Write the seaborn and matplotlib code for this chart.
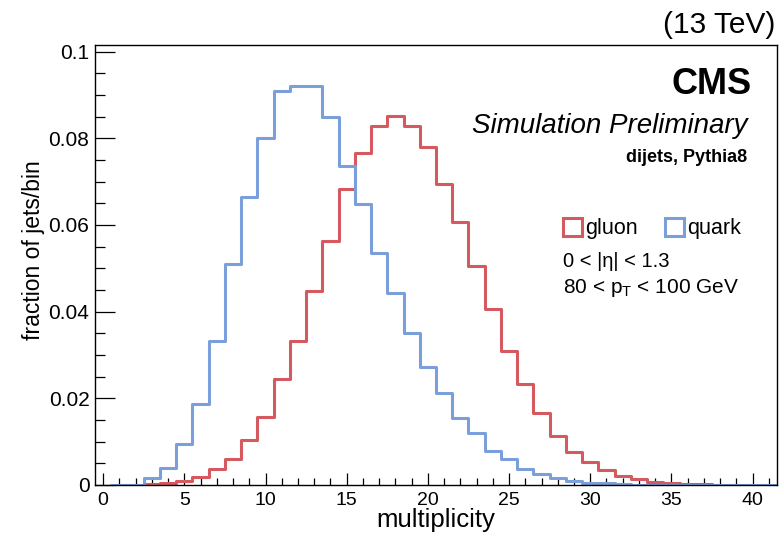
import numpy as np
import pandas as pd
import matplotlib
matplotlib.use('Agg')
import matplotlib.pyplot as plt
import seaborn as sns
from matplotlib.patches import Patch
from matplotlib.ticker import MultipleLocator, FuncFormatter

# multiplicity bins (integer centres, width 1)
quark_bins = list(range(1, 42))
quark_frac = [0.0, 0.0, 0.0015, 0.0039, 0.0095, 0.0188, 0.0332, 0.0510, 0.0665,
              0.0800, 0.0910, 0.0921, 0.0921, 0.0850, 0.0737, 0.0648, 0.0535,
              0.0444, 0.0351, 0.0273, 0.0212, 0.0154, 0.0119, 0.0078, 0.0059,
              0.0036, 0.0025, 0.0015, 0.0009, 0.0005, 0.0004, 0.0002, 0.0001,
              0.0001, 0.0, 0.0, 0.0, 0.0, 0.0, 0.0, 0.0]

gluon_bins = list(range(3, 40))
gluon_frac = [0.0003, 0.0005, 0.0009, 0.0019, 0.0036, 0.0059, 0.0104, 0.0158,
              0.0244, 0.0332, 0.0448, 0.0564, 0.0682, 0.0765, 0.0827, 0.0851,
              0.0827, 0.0780, 0.0694, 0.0607, 0.0506, 0.0406, 0.0308, 0.0233,
              0.0167, 0.0113, 0.0077, 0.0054, 0.0035, 0.0021, 0.0013, 0.0008,
              0.0005, 0.0003, 0.0002, 0.0001, 0.0001]

colors = {'gluon': '#d55a5f', 'quark': '#7b9fdb'}

sns.set_style('ticks')
plt.rcParams['font.family'] = ['Liberation Sans', 'DejaVu Sans']
plt.rcParams['mathtext.fontset'] = 'custom'
plt.rcParams['mathtext.rm'] = 'Liberation Sans'
plt.rcParams['mathtext.it'] = 'Liberation Sans'
for key in ['text.color', 'axes.labelcolor', 'xtick.color', 'ytick.color']:
    plt.rcParams[key] = 'black'

fig = plt.figure(figsize=(7.81, 5.41), dpi=100)
ax = fig.add_axes([95 / 781, 56 / 541, 682 / 781, 440 / 541])

for name, xs, ws in [('gluon', gluon_bins, gluon_frac),
                     ('quark', quark_bins, quark_frac)]:
    sns.histplot(x=np.array(xs, dtype=float), weights=np.array(ws), discrete=True,
                 element='step', fill=False, color=colors[name],
                 linewidth=2.2, ax=ax)

ax.set_xlim(-0.5, 41.5)
ax.set_ylim(0, 0.1015)
ax.xaxis.set_major_locator(MultipleLocator(5))
ax.xaxis.set_minor_locator(MultipleLocator(1))
ax.yaxis.set_major_locator(MultipleLocator(0.02))
ax.yaxis.set_minor_locator(MultipleLocator(0.005))
ax.yaxis.set_major_formatter(FuncFormatter(lambda v, _: f'{v:g}'))

ax.tick_params(axis='x', which='major', direction='in', length=9, width=0.9,
               labelsize=14, pad=5)
ax.tick_params(axis='x', which='minor', direction='in', length=5, width=0.9)
ax.tick_params(axis='y', which='major', direction='in', length=14.5, width=0.9,
               labelsize=15, pad=4)
ax.tick_params(axis='y', which='minor', direction='in', length=7.2, width=0.9)
for sp in ax.spines.values():
    sp.set_linewidth(1.0)
    sp.set_color('black')

ax.set_xlabel('multiplicity', fontsize=18.5)
ax.set_ylabel('fraction of jets/bin', fontsize=16.5)
ax.xaxis.set_label_coords(0.5, -0.053)
ax.yaxis.set_label_coords(-0.073, 0.534)

handles = [Patch(facecolor='white', edgecolor=colors[k], linewidth=2.2, label=k)
           for k in ['gluon', 'quark']]
ax.legend(handles=handles, ncol=2, frameon=False, fontsize=15.5,
          loc='upper left', bbox_to_anchor=(0.686, 0.607),
          handlelength=0.9, handleheight=0.9, handletextpad=0.15,
          columnspacing=1.25, borderpad=0, borderaxespad=0)

def ftext(px, py, s, **kw):
    fig.text(px / 781, 1 - py / 541, s, **kw)

ftext(775, 33, '(13 TeV)', fontsize=21.5, ha='right', va='baseline')
ftext(752, 94, 'CMS', fontsize=26, fontweight='bold', ha='right', va='baseline')
ftext(748, 133, 'Simulation Preliminary', fontsize=20, style='italic',
      ha='right', va='baseline')
ftext(747, 162, 'dijets, Pythia8', fontsize=13, fontweight='bold',
      ha='right', va='baseline')
ftext(563, 267, '0 < |η| < 1.3', fontsize=14.5, ha='left', va='baseline')
ftext(563, 293, '80 < $p_{T}$ < 100 GeV', fontsize=15, ha='left', va='baseline')

fig.savefig('out.png', dpi=100)
